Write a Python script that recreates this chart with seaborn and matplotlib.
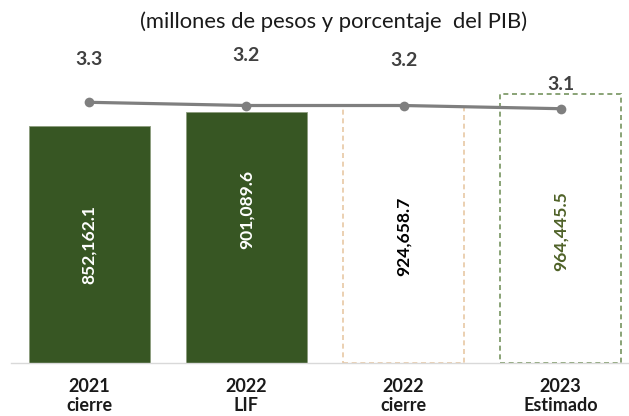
import numpy as np
import pandas as pd
import matplotlib
matplotlib.use("Agg")
import matplotlib.pyplot as plt
import seaborn as sns

# Data (millones de pesos y % del PIB)
categorias = ["2021\ncierre", "2022\nLIF", "2022\ncierre", "2023\nEstimado"]
montos     = [852162.1, 901089.6, 924658.7, 964445.5]
pct_pib    = [3.3, 3.2, 3.2, 3.1]

sns.set_style("white")
plt.rcParams["font.family"] = ["Lato", "DejaVu Sans"]

# Colours
VERDE      = "#375623"
VERDE_LINE = "#76935f"
DURAZNO    = "#e8c8a4"
GRIS       = "#7f7f7f"
GRIS_EJE   = "#d9d9d9"

df = pd.DataFrame({"periodo": categorias, "monto": montos, "pib": pct_pib})

# ================================================================================
# Figure (pixel layout 629x416)
# ================================================================================
W, H = 629, 416
fig = plt.figure(figsize=(W / 100, H / 100), dpi=100)
ax  = fig.add_axes([10.8 / W, (H - 362.5) / H, 628.4 / W, 322.5 / H])

sns.barplot(data=df, x="periodo", y="monto", hue="periodo",
            palette=[VERDE, VERDE, "white", "white"], saturation=1,
            width=0.77, legend=False, ax=ax)

# Bar styling: first two solid, last two dashed outlines
for i, p in enumerate(ax.patches):
    if i < 2:
        p.set_edgecolor("#8c9c7e"); p.set_linewidth(0.6)
    else:
        p.set_facecolor("none")
        p.set_edgecolor(DURAZNO if i == 2 else VERDE_LINE)
        p.set_linestyle((0, (3, 2.2)))
        p.set_linewidth(1.2)

ax.set_xlim(-0.5, 3.5)
ax.set_ylim(0, 1160500)
ax.set_xlabel(""); ax.set_ylabel("")
ax.set_yticks([])

# Category labels centred, small tick marks at the category boundaries
ax.set_xticks(range(len(categorias)))
ax.set_xticklabels(categorias, fontsize=13, fontweight="bold", color="#1a1a1a", linespacing=1.15)
ax.tick_params(axis="x", which="major", length=0, pad=11)
ax.set_xticks(np.arange(-0.5, len(categorias)), minor=True)
ax.tick_params(axis="x", which="minor", length=5, width=1, color=GRIS_EJE, direction="out")

for s in ["left", "top", "right"]:
    ax.spines[s].set_visible(False)
ax.spines["bottom"].set_color(GRIS_EJE)
ax.spines["bottom"].set_linewidth(1.0)

# Values inside the bars (rotated)
label_frac  = [0.50, 0.61, 0.49, 0.49]
label_color = ["white", "white", "black", "#4f6228"]
for i, m in enumerate(montos):
    ax.text(i, m * label_frac[i], f"{m:,.1f}", rotation=90, ha="center", va="center",
            fontsize=12.6, fontweight="bold", color=label_color[i])

# --------------------------------------------------------------------------------
# Secondary axis: % del PIB
# --------------------------------------------------------------------------------
ax2 = ax.twinx()
sns.lineplot(x=np.arange(len(pct_pib)), y=pct_pib, ax=ax2, color=GRIS, linewidth=2.3,
             marker="o", markersize=7, markeredgewidth=0)
ax2.set_ylim(-4.831, 5.247)
ax2.set_yticks([])
ax2.set_ylabel("")
for s in ax2.spines.values():
    s.set_visible(False)

offsets = [42.7, 50, 45, 24]
for i, v in enumerate(pct_pib):
    ax2.annotate(f"{v:.1f}", (i, v), xytext=(0, offsets[i]), textcoords="offset pixels",
                 ha="center", va="center", fontsize=14, fontweight="bold", color="#404040")

# Title
fig.text(334 / W, 1 - 22 / H, "(millones de pesos y porcentaje  del PIB)",
         ha="center", va="center", fontsize=15.8, color="#1a1a1a")

fig.savefig("out.png", dpi=100)
